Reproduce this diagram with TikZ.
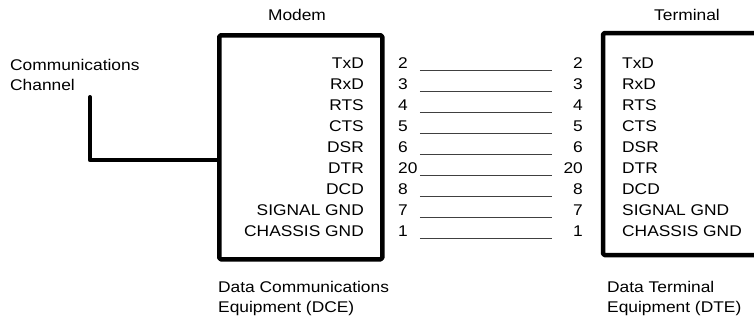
\documentclass[tikz,border=0pt]{standalone}
\usepackage{fontspec}
\setmainfont{Liberation Sans}[FakeStretch=1.12]
\usetikzlibrary{calc}
\tikzset{
  heavy/.style={line width=4.5pt,line join=round,rounded corners=1.5pt},
  cable/.style={line width=4pt,line cap=round,line join=round},
  wire/.style={black!75,line width=.8pt,shorten <=1.5pt,shorten >=11pt},
  pin/.style={text width=20pt}
}
\newcommand*{\txt}{\fontsize{15.5}{20}\selectfont}

\begin{document}
\begin{tikzpicture}[x=1pt,y=-1pt,every node/.style={inner sep=0pt,font=\txt}]
\useasboundingbox (0,0) rectangle (754,322);
% the two boxes
\node[heavy,draw,minimum width=163pt,minimum height=224pt,anchor=north west] (dce) at (217,33) {};
\draw[heavy] (760,33) -- (603,33) -- (603,255) -- (760,255);
\node (modem) at (297,15) {Modem};
\node (terminal) at (687,15) {Terminal};
% channel
\node[anchor=north west,align=left] (chan) at (10,59) {Communications\\Channel};
\coordinate (ch) at (90,97);
\draw[cable] (ch) |- ([yshift=-13pt]dce.west);
% signals and pins
\foreach \sig/\pin [count=\i from 0] in {TxD/2,RxD/3,RTS/4,CTS/5,DSR/6,DTR/20,DCD/8,SIGNAL GND/7,CHASSIS GND/1}{
  \node[anchor=base east] (m\i) at (364,68+21*\i) {\sig};
  \node[pin,anchor=base west,align=left] (pl\i) at (398,68+21*\i) {\pin};
  \node[pin,anchor=base east,align=right] (pr\i) at (583,68+21*\i) {\pin};
  \node[anchor=base west] (t\i) at (622,68+21*\i) {\sig};
  \draw[wire] ([yshift=-2pt]pl\i.base east) -- ([yshift=-2pt]pr\i.base west);
}
% captions
\node[anchor=north west,align=left] (dcecap) at (218,281) {Data Communications\\Equipment (DCE)};
\node[anchor=north west,align=left] (dtecap) at (607,281) {Data Terminal\\Equipment (DTE)};
\end{tikzpicture}
\end{document}
